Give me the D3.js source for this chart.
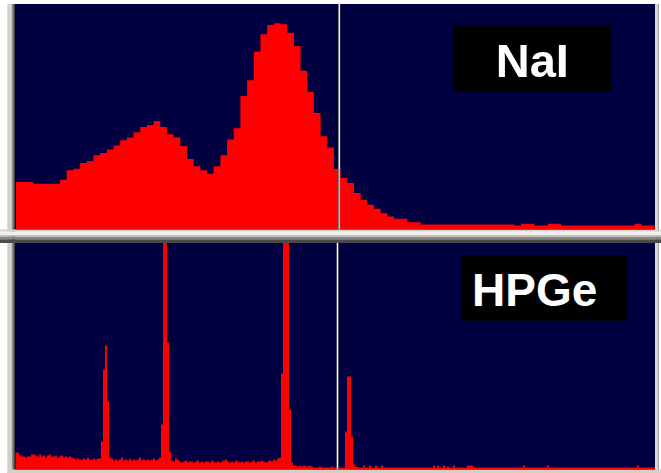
<!DOCTYPE html>
<html><head><meta charset="utf-8">
<script src="https://cdn.jsdelivr.net/npm/d3@7"></script>
<style>html,body{margin:0;padding:0;background:#fff;overflow:hidden}</style>
</head><body>
<script>
// NaI spectrum: 96 coarse bins (counts, arbitrary units)
const naiCounts = [
  47.3,47.3,47.3,45.7,45.7,45.7,45.7,49.7,59,60.7,
  66.3,68.3,74,76.3,79.7,83.7,89,91.7,97,102.3,
  104.3,108.3,102.3,95,91.7,83.3,70.3,63,59,55.7,
  63,74,89.7,101,133.3,149,177.3,194.7,204,205.7,
  204.7,196.3,183,158.3,137.3,116.3,93,81.7,60.3,51.3,
  46.3,36.3,29.7,24.7,20.7,16.3,13,10.7,10.7,7.3,
  7.3,5,5,5,5,5,5,5,5,5,
  5,5,5,5,5,4,5.7,5.7,4,4,
  5.7,5.7,4,4,4,4,4,4,4,4,
  4,4,4,5.7,4,4
];
// HPGe spectrum: 320 fine channels (counts, arbitrary units)
const hpgeCounts = [
  17,17,14,13,13,12,13,13,15,15,
  14,13,15,13,14,12,14,15,13,13,
  14,12,13,14,12,13,12,13,12,11,
  10,11,10,10,11,10,12,10,10,11,
  10,11,11,28,100,124,68,12,11,9,
  10,9,10,12,9,10,9,11,9,10,
  9,10,12,9,10,9,10,9,10,11,
  9,10,12,45,300,300,127,18,9,8,
  11,10,8,7,8,9,7,8,8,7,
  8,9,7,8,7,8,8,7,9,8,
  7,8,7,8,9,10,8,7,8,7,
  9,8,7,8,7,8,8,7,8,9,
  7,8,8,9,8,7,8,9,8,10,
  9,11,12,96,300,300,300,60,7,4,
  4,3,4,3,4,3,3,4,3,2,
  2,2,3,2,2,2,2,2,3,2,
  2,2,2,2,2,38,93,93,33,5,
  3,2,2,2,4,2,2,4,2,2,
  4,2,2,4,2,2,2,2,2,2,
  2,2,2,2,2,2,2,2,2,2,
  2,2,2,2,2,2,2,2,2,4,
  2,4,2,2,4,2,3,2,2,4,
  2,2,2,2,2,2,4,4,4,2,
  2,2,2,2,2,2,2,2,2,2,
  2,2,2,2,2,2,2,2,2,2,
  2,2,2,2,4,2,2,2,2,2,
  2,2,2,2,2,2,4,2,2,2,
  2,2,2,2,2,2,2,2,2,2,
  2,2,2,2,2,2,2,2,2,2,
  2,2,2,2,2,2,2,2,2,2,
  2,2,2,2,2,2,2,2,2,2,
  2,4,2,2,2,2,2,2,2,2
];
const detectorLabels = ["NaI", "HPGe"];
const cursorNai = 48.8;     // bin position of cursor (NaI)
const cursorHpge = 161.25;  // channel position of cursor (HPGe)

const W = 661, H = 473;
const svg = d3.select("body").append("svg").attr("width", W).attr("height", H)
  .style("display","block");
svg.append("rect").attr("width", W).attr("height", H).attr("fill", "#ffffff");

const NAVY = "#000040", RED = "#ff0000";

// window frame pieces
const frame = svg.append("g");
function box(x, y, w, h, c) { frame.append("rect").attr("x", x).attr("y", y).attr("width", w).attr("height", h).attr("fill", c); }
box(7.3, 4, 4.4, 469, "#d4d0c8");
box(11.7, 4, 1.6, 469, "#8a8a8a");
box(13.3, 4, 1.7, 469, "#404040");
box(655, 4, 2.5, 469, "#dcdad4");
box(657.5, 4, 1.5, 469, "#a8a8a8");
box(7.3, 469.5, 653.7, 3.5, "#d4d0c8");

function drawPanel(counts, x0, x1, y0, y1, domainX, rangeX, maxY, clipX, label, labelCfg, cursorPos) {
  const id = "clip" + label;
  svg.append("clipPath").attr("id", id).append("rect")
    .attr("x", clipX).attr("y", y0).attr("width", x1 - clipX).attr("height", y1 - y0);
  svg.append("rect").attr("x", x0).attr("y", y0).attr("width", x1 - x0).attr("height", y1 - y0).attr("fill", NAVY);
  const x = d3.scaleLinear().domain(domainX).range(rangeX);
  const y = d3.scaleLinear().domain([0, maxY]).range([y1, y0]);
  const pts = counts.map((v, i) => [i, v]);
  pts.push([counts.length, counts[counts.length - 1]]);
  const area = d3.area().curve(d3.curveStepAfter)
    .x(d => x(d[0])).y0(y1 + 0.5).y1(d => Math.max(y0 - 2, y(d[1])));
  const g = svg.append("g").attr("clip-path", `url(#${id})`);
  g.append("path").datum(pts).attr("d", area).attr("fill", RED);
  // label
  svg.append("rect").attr("x", labelCfg.bx).attr("y", labelCfg.by).attr("width", labelCfg.bw).attr("height", labelCfg.bh).attr("fill", "#000");
  svg.append("text").attr("x", labelCfg.tx).attr("y", labelCfg.ty)
    .attr("text-anchor", labelCfg.anchor)
    .attr("font-family", "'Liberation Sans', Arial, Helvetica, sans-serif")
    .attr("font-weight", "bold").attr("font-size", labelCfg.fs).attr("fill", "#fff")
    .text(label);
  // XOR-like cursor
  svg.append("line").attr("x1", x(cursorPos)).attr("x2", x(cursorPos))
    .attr("y1", y0).attr("y2", y1 + 0.5)
    .attr("stroke", "#fff").attr("stroke-width", 1.6)
    .style("mix-blend-mode", "difference");
}

drawPanel(naiCounts, 15, 655, 4, 229.5, [0, naiCounts.length], [13.3, 654.6], 225, 16,
  detectorLabels[0], {bx: 453.3, by: 26, bw: 157.7, bh: 65.7, tx: 532.3, ty: 76.7, anchor: "middle", fs: 47}, cursorNai);

// separator between the two panels
box(0, 229.5, 661, 2.2, "#d8d4cc");
box(0, 231.7, 661, 3.3, "#f2f0ec");
box(0, 235, 661, 1.7, "#c8c4bc");
box(0, 236.7, 661, 2.6, "#858585");
box(0, 239.3, 661, 3.7, "#4a4a4a");

drawPanel(hpgeCounts, 15, 655, 243, 469.5, [0, hpgeCounts.length], [15, 655], 226.5, 15.5,
  detectorLabels[1], {bx: 462, by: 255, bw: 165.3, bh: 65.7, tx: 472, ty: 306, anchor: "start", fs: 46}, cursorHpge);
</script>
</body></html>
